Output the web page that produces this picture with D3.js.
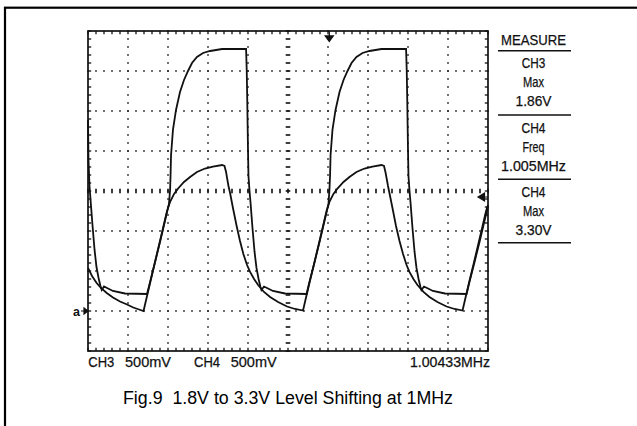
<!DOCTYPE html>
<html><head><meta charset="utf-8">
<script src="https://cdn.jsdelivr.net/npm/d3@7"></script>
<style>body{margin:0;background:#fff}svg{display:block}</style>
</head><body>
<svg id="c" width="637" height="426"></svg>
<script>
// ---- data (time in ns, voltage in V) ----
const ch4Time = [0,3,9,16,28,41,53,66,78,86,100,119,156,231,369,
 388,419,450,481,506,513,516,519,531,550,575,600,625,650,681,719,763,838,988,
 992,995,1000,1003,1009,1016,1028,1041,1053,1066,1078,1084,1100,1119,1156,1231,1366,
 1384,1416,1447,1478,1503,1509,1513,1516,1528,1547,1572,1597,1622,1647,1678,1716,1759,1834,1988,
 1992,1995,2000,2003,2009,2016,2028,2041,2053,2066,2078,2084,2100,2119,2156,2231,2366,
 2384,2416,2447,2478,2500];
const ch4Volt = [2.388,1.888,1.575,1.388,1.075,0.763,0.550,0.413,0.313,0.263,0.306,0.288,0.250,0.219,0.213,
 0.363,0.613,0.863,1.125,1.338,1.513,1.700,1.950,2.263,2.513,2.738,2.888,3.000,3.100,3.175,3.225,3.250,3.275,3.275,
 3.013,2.675,2.013,1.688,1.513,1.350,1.038,0.738,0.538,0.400,0.300,0.263,0.306,0.288,0.250,0.219,0.213,
 0.363,0.613,0.863,1.125,1.338,1.513,1.700,1.950,2.263,2.513,2.738,2.888,3.000,3.100,3.175,3.225,3.250,3.275,3.275,
 3.013,2.675,2.013,1.688,1.513,1.350,1.038,0.738,0.538,0.400,0.300,0.263,0.306,0.288,0.250,0.219,0.213,
 0.363,0.613,0.863,1.125,1.313];
const ch3Time = [0,25,54,81,117,156,200,244,283,319,347,
 363,388,419,450,475,494,513,538,563,600,638,681,731,781,838,853,863,869,878,888,906,929,950,971,994,1013,1038,1063,1100,1138,1188,1244,1294,1344,
 1359,1384,1416,1447,1472,1491,1509,1534,1559,1597,1634,1678,1728,1778,1834,1850,1859,1866,1875,1884,1903,1925,1947,1969,1991,2009,2034,2059,2097,2134,2184,2241,2291,2341,
 2356,2381,2413,2444,2469,2488,2500];
const ch3Volt = [0.538,0.438,0.350,0.288,0.225,0.169,0.119,0.081,0.044,0.019,0.000,
 0.138,0.350,0.613,0.875,1.088,1.250,1.363,1.463,1.531,1.613,1.675,1.738,1.781,1.806,1.825,1.813,1.738,1.663,1.563,1.475,1.288,1.063,0.875,0.713,0.575,0.488,0.400,0.325,0.238,0.175,0.113,0.056,0.025,0.006,
 0.138,0.350,0.613,0.875,1.088,1.250,1.363,1.463,1.531,1.613,1.675,1.738,1.781,1.806,1.825,1.813,1.738,1.663,1.563,1.475,1.288,1.063,0.875,0.713,0.575,0.488,0.400,0.325,0.238,0.175,0.113,0.056,0.025,0.006,
 0.138,0.350,0.613,0.875,1.088,1.250,1.325];

const timeDomain = [0, 2500];      // 250 ns/div x 10
const voltDomain = [-0.5, 3.5];    // 500 mV/div x 8
const timeDiv = 250, voltDiv = 0.5, minorPerDiv = 5;
const triggerTime = 1508, triggerLevel = 1.425, groundLevel = 0;

const measureLabels = [["MEASURE"],["CH3","Max","1.86V"],["CH4","Freq","1.005MHz"],["CH4","Max","3.30V"]];
const bottomLabels = ["CH3","500mV","CH4","500mV"];
const freqLabel = "1.00433MHz";
const caption = "Fig.9  1.8V to 3.3V Level Shifting at 1MHz";

// ---- drawing ----
const svg = d3.select("#c");
const ink = "#111";
const x = d3.scaleLinear().domain(timeDomain).range([88, 488]);
const y = d3.scaleLinear().domain(voltDomain).range([351, 31]);

// outer frame
svg.append("rect").attr("x",5).attr("y",7.7).attr("width",700).attr("height",500)
  .attr("fill","none").attr("stroke","#000").attr("stroke-width",2.2);

const g = svg.append("g");
const tMinor = d3.range(timeDomain[0], timeDomain[1] + 1e-6, timeDiv/minorPerDiv);
const vMinor = d3.range(voltDomain[0], voltDomain[1] + 1e-6, voltDiv/minorPerDiv);
const tMajor = d3.range(timeDomain[0]+timeDiv, timeDomain[1]-1e-6, timeDiv);
const vMajor = d3.range(voltDomain[0]+voltDiv, voltDomain[1]-1e-6, voltDiv);
const tCenter = (timeDomain[0]+timeDomain[1])/2, vCenter = (voltDomain[0]+voltDomain[1])/2;
const dotC = "#222";

// dotted grid
tMajor.filter(t=>Math.abs(t-tCenter)>1).forEach(t=>{
  vMinor.forEach(v=>g.append("rect").attr("x",x(t)-0.8).attr("y",y(v)-0.8).attr("width",1.6).attr("height",1.6).attr("fill",dotC));
});
vMajor.filter(v=>Math.abs(v-vCenter)>1e-6).forEach(v=>{
  tMinor.forEach(t=>g.append("rect").attr("x",x(t)-0.8).attr("y",y(v)-0.8).attr("width",1.6).attr("height",1.6).attr("fill",dotC));
});
// center axes with dashes
tMinor.forEach(t=>g.append("rect").attr("x",x(t)-0.8).attr("y",y(vCenter)-2.3).attr("width",1.6).attr("height",4.6).attr("fill",ink));
vMinor.forEach(v=>g.append("rect").attr("x",x(tCenter)-2.3).attr("y",y(v)-0.8).attr("width",4.6).attr("height",1.6).attr("fill",ink));

// border ticks
const tl = 3.2;
tMinor.forEach(t=>{
  g.append("line").attr("x1",x(t)).attr("x2",x(t)).attr("y1",y(voltDomain[1])).attr("y2",y(voltDomain[1])+tl).attr("stroke",ink).attr("stroke-width",1.3);
  g.append("line").attr("x1",x(t)).attr("x2",x(t)).attr("y1",y(voltDomain[0])).attr("y2",y(voltDomain[0])-tl).attr("stroke",ink).attr("stroke-width",1.3);
});
vMinor.forEach(v=>{
  g.append("line").attr("x1",x(timeDomain[0])).attr("x2",x(timeDomain[0])+tl).attr("y1",y(v)).attr("y2",y(v)).attr("stroke",ink).attr("stroke-width",1.3);
  g.append("line").attr("x1",x(timeDomain[1])).attr("x2",x(timeDomain[1])-tl).attr("y1",y(v)).attr("y2",y(v)).attr("stroke",ink).attr("stroke-width",1.3);
});
g.append("rect").attr("x",x(timeDomain[0])).attr("y",y(voltDomain[1]))
  .attr("width",x(timeDomain[1])-x(timeDomain[0])).attr("height",y(voltDomain[0])-y(voltDomain[1]))
  .attr("fill","none").attr("stroke",ink).attr("stroke-width",1.7);

// traces
const line = d3.line().x(d=>x(d[0])).y(d=>y(d[1]));
[[ch3Time,ch3Volt],[ch4Time,ch4Volt]].forEach(([t,v])=>{
  g.append("path").attr("d",line(d3.zip(t,v))).attr("fill","none")
   .attr("stroke",ink).attr("stroke-width",1.8).attr("stroke-linejoin","miter");
});

// trigger markers
const tx = x(triggerTime), ty0 = y(voltDomain[1]);
g.append("path").attr("d",`M${tx},${ty0}V${ty0+5}M${tx-4},${ty0+5}L${tx+4},${ty0+5}L${tx},${ty0+10.5}Z`)
  .attr("fill",ink).attr("stroke",ink).attr("stroke-width",1.3);
const lx = x(timeDomain[1]), ly = y(triggerLevel);
g.append("path").attr("d",`M${lx},${ly}H${lx-4}M${lx-3.5},${ly-4}L${lx-3.5},${ly+4}L${lx-10},${ly}Z`)
  .attr("fill",ink).attr("stroke",ink).attr("stroke-width",1.2);
// ground marker
const gx = x(timeDomain[0]), gy = y(groundLevel);
g.append("path").attr("d",`M${gx-7},${gy}H${gx}M${gx-4},${gy-3}L${gx},${gy}L${gx-4},${gy+3}Z`)
  .attr("fill",ink).attr("stroke",ink).attr("stroke-width",1.2);
g.append("text").attr("x",gx-15).attr("y",gy+4.5).text("a")
  .attr("font-family","Liberation Sans, Arial, sans-serif").attr("font-size",12.5).attr("font-weight","bold").attr("fill",ink);

// measure panel
const font = "Liberation Sans, Arial, sans-serif";
const px = 533.5;
const fs = 14.3;
const measWidths = [[65],[23.5,21,36],[24,22,65],[24,21,36]];
const groupTop = [45, 68.3, 132.7, 197.3];
const sepY = [50.7, 115, 179.3, 242.7];
measureLabels.forEach((grp,i)=>{
  grp.forEach((s,j)=>{
    svg.append("text").attr("x",px).attr("y",groupTop[i]+j*19).attr("text-anchor","middle")
      .attr("font-family",font).attr("font-size",fs).attr("fill",ink)
      .attr("stroke",ink).attr("stroke-width",0.25)
      .attr("textLength",measWidths[i][j]).attr("lengthAdjust","spacingAndGlyphs").text(s);
  });
  svg.append("line").attr("x1",498).attr("x2",571).attr("y1",sepY[i]).attr("y2",sepY[i])
    .attr("stroke",ink).attr("stroke-width",1.5);
});

// bottom labels
const bx = [88.3, 125, 194, 230.7], bw = [26, 46, 26, 46];
bottomLabels.forEach((s,i)=>{
  svg.append("text").attr("x",bx[i]).attr("y",366.7).attr("font-family",font).attr("font-size",fs)
    .attr("fill",ink).attr("stroke",ink).attr("stroke-width",0.25)
    .attr("textLength",bw[i]).attr("lengthAdjust","spacingAndGlyphs").text(s);
});
svg.append("text").attr("x",410).attr("y",366.7).attr("font-family",font).attr("font-size",fs)
  .attr("fill",ink).attr("stroke",ink).attr("stroke-width",0.25)
  .attr("textLength",80).attr("lengthAdjust","spacingAndGlyphs").text(freqLabel);

// caption
svg.append("text").attr("x",288).attr("y",404).attr("text-anchor","middle")
  .attr("font-family",font).attr("font-size",18).attr("fill","#000")
  .attr("textLength",330).attr("lengthAdjust","spacingAndGlyphs")
  .style("white-space","pre").text(caption);
</script>
</body></html>
